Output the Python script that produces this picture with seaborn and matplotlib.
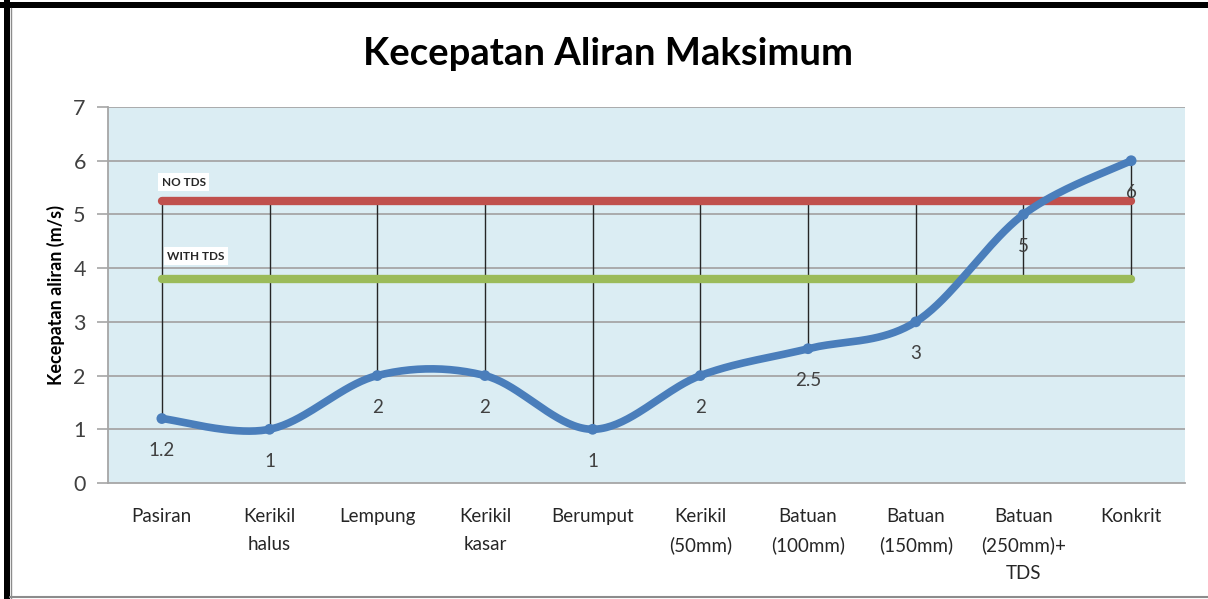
import numpy as np
import pandas as pd
import matplotlib
matplotlib.use("Agg")
import matplotlib.pyplot as plt
import seaborn as sns
from matplotlib.patches import Rectangle
from matplotlib.lines import Line2D

# ---- data ----
categories = ["Pasiran", "Kerikil\nhalus", "Lempung", "Kerikil\nkasar", "Berumput",
              "Kerikil\n(50mm)", "Batuan\n(100mm)", "Batuan\n(150mm)",
              "Batuan\n(250mm)+\nTDS", "Konkrit"]
velocity = [1.2, 1, 2, 2, 1, 2, 2.5, 3, 5, 6]
no_tds = [5.25] * 10
with_tds = [3.8] * 10
value_labels = ["1.2", "1", "2", "2", "1", "2", "2.5", "3", "5", "6"]

sns.set_theme(style="white")
plt.rcParams["font.family"] = ["Lato", "DejaVu Sans"]

fig = plt.figure(figsize=(12.08, 5.99), dpi=100)
ax = fig.add_axes([108 / 1208, 1 - 483 / 599, (1185 - 108) / 1208, (483 - 107) / 599])
ax.set_facecolor("#dbedf3")

x = np.arange(len(categories))


def smooth_curve(xs, ys, n=40):
    """Catmull-Rom style smoothing, as used for smoothed line charts."""
    xs = np.asarray(xs, float)
    ys = np.asarray(ys, float)
    px, py = [], []
    for i in range(len(xs) - 1):
        x0, y0 = (xs[i - 1], ys[i - 1]) if i > 0 else (xs[i], ys[i])
        x1, y1 = xs[i], ys[i]
        x2, y2 = xs[i + 1], ys[i + 1]
        x3, y3 = (xs[i + 2], ys[i + 2]) if i + 2 < len(xs) else (xs[i + 1], ys[i + 1])
        c1x, c1y = x1 + (x2 - x0) / 6, y1 + (y2 - y0) / 6
        c2x, c2y = x2 - (x3 - x1) / 6, y2 - (y3 - y1) / 6
        t = np.linspace(0, 1, n, endpoint=(i == len(xs) - 2))
        b0, b1, b2, b3 = (1 - t) ** 3, 3 * t * (1 - t) ** 2, 3 * t ** 2 * (1 - t), t ** 3
        px.append(b0 * x1 + b1 * c1x + b2 * c2x + b3 * x2)
        py.append(b0 * y1 + b1 * c1y + b2 * c2y + b3 * y2)
    return np.concatenate(px), np.concatenate(py)


# gridlines
for g in range(1, 8):
    ax.axhline(g, color="#a6a6a6", lw=1.3, zorder=1)

# high-low lines spanning all three series
for i in x:
    vals = [velocity[i], no_tds[i], with_tds[i]]
    ax.vlines(i, min(vals), max(vals), color="#262626", lw=1.0, zorder=2)

df_ref = pd.DataFrame({"x": np.concatenate([x, x]),
                       "y": no_tds + with_tds,
                       "s": ["NO TDS"] * 10 + ["WITH TDS"] * 10})
sns.lineplot(data=df_ref, x="x", y="y", hue="s",
             palette={"NO TDS": "#c0504d", "WITH TDS": "#9bbb59"},
             lw=6, legend=False, ax=ax, zorder=3, solid_capstyle="round")

sx, sy = smooth_curve(x, velocity)
df_s = pd.DataFrame({"x": sx, "y": sy})
sns.lineplot(data=df_s, x="x", y="y", sort=False, color="#4a7ebb", lw=5.5,
             legend=False, ax=ax, zorder=4, solid_capstyle="round")
sns.scatterplot(x=x, y=velocity, color="#4a7ebb", s=60, edgecolor="none",
                ax=ax, zorder=5)

for i, lab in zip(x, value_labels):
    ax.annotate(lab, (i, velocity[i]), xytext=(0, -23), textcoords="offset points",
                ha="center", va="center", fontsize=13.5, color="#404040", zorder=6)

ax.text(0.0, 5.6, "NO TDS", fontsize=8.5, fontweight="bold", color="#262626",
        ha="left", va="center",
        bbox=dict(facecolor="white", edgecolor="none", pad=2.5), zorder=6)
ax.text(0.05, 4.22, "WITH TDS", fontsize=8.5, fontweight="bold", color="#262626",
        ha="left", va="center",
        bbox=dict(facecolor="white", edgecolor="none", pad=2.5), zorder=6)

ax.set_xlim(-0.5, 9.5)
ax.set_ylim(0, 7)
ax.set_yticks(range(0, 8))
ax.set_yticklabels([str(v) for v in range(0, 8)], fontsize=15.5, color="#404040")
ax.set_xticks(x)
ax.set_xticklabels(categories, fontsize=13.5, color="#262626", linespacing=1.75, va="top")
ax.tick_params(axis="y", length=8, width=1.2, color="#a6a6a6", pad=8, left=True)
ax.tick_params(axis="x", length=0, pad=18)
ax.set_xlabel("")
ax.set_ylabel("Kecepatan aliran (m/s)", fontsize=13, fontweight="bold",
              color="#000000", labelpad=6)

for side in ["top", "right"]:
    ax.spines[side].set_visible(False)
for side in ["left", "bottom"]:
    ax.spines[side].set_color("#a6a6a6")
    ax.spines[side].set_linewidth(1.3)

fig.text(608 / 1208, 1 - 54 / 599, "Kecepatan Aliran Maksimum", fontsize=27.5,
         fontweight="bold", ha="center", va="center", color="#000000")

# outer frame
fig.add_artist(Rectangle((0, 1 - 8 / 599), 1, 6 / 599, transform=fig.transFigure,
                         facecolor="black", edgecolor="none"))
fig.add_artist(Rectangle((4 / 1208, 0), 6 / 1208, 1, transform=fig.transFigure,
                         facecolor="black", edgecolor="none"))
fig.add_artist(Line2D([10 / 1208, 1], [2 / 599, 2 / 599], transform=fig.transFigure,
                      color="#8c8c8c", lw=1.5))
fig.add_artist(Line2D([11 / 1208, 11 / 1208], [0, 1 - 8 / 599], transform=fig.transFigure,
                      color="#8c8c8c", lw=1.0))

fig.savefig("out.png", dpi=100, facecolor="white")
